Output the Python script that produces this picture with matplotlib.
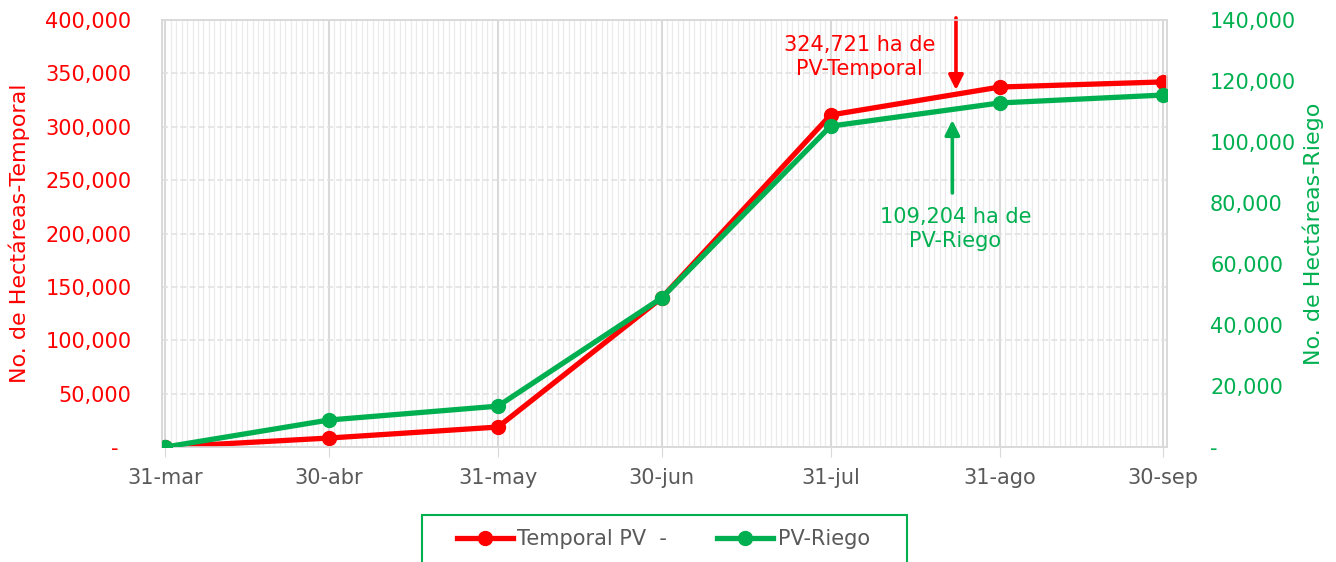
import datetime as dt
import matplotlib
matplotlib.use("Agg")
import matplotlib.pyplot as plt
import matplotlib.dates as mdates
from matplotlib.ticker import FixedLocator, FuncFormatter
from matplotlib.patches import Rectangle

plt.rcParams['font.family'] = ['DejaVu Sans']

# ---- data ----
fechas = ["2023-03-31", "2023-04-30", "2023-05-31", "2023-06-30",
          "2023-07-31", "2023-08-31", "2023-09-30"]
etiquetas_x = ["31-mar", "30-abr", "31-may", "30-jun", "31-jul", "31-ago", "30-sep"]
temporal = [0, 8400, 18700, 139600, 311000, 337200, 342000]
riego = [0, 8850, 13400, 48850, 105200, 112800, 115400]
ticks_temporal = [0, 50000, 100000, 150000, 200000, 250000, 300000, 350000, 400000]
ticks_riego = [0, 20000, 40000, 60000, 80000, 100000, 120000, 140000]

RED = "#FF0000"
GREEN = "#00B050"
GRAY_TXT = "#595959"
GRID = "#D9D9D9"

x = [dt.datetime.strptime(f, "%Y-%m-%d") for f in fechas]

W, H = 1336, 562
fig = plt.figure(figsize=(W / 100, H / 100), dpi=100)
ax = fig.add_axes([0.1213, 0.2046, 0.7522, 0.7598])
ax2 = ax.twinx()

l1, = ax.plot(x, temporal, '-o', color=RED, lw=3.8, ms=10, label="Temporal PV  -", zorder=3)
l2, = ax2.plot(x, riego, '-o', color=GREEN, lw=3.8, ms=10, label="PV-Riego", zorder=3)

ax.set_xlim(x[0] - dt.timedelta(days=0.6), x[-1] + dt.timedelta(days=0.7))
ax.set_ylim(0, 400000)
ax2.set_ylim(0, 140000)

# x axis
ax.xaxis.set_major_locator(FixedLocator(mdates.date2num(x)))
ax.set_xticklabels(etiquetas_x)
ax.xaxis.set_minor_locator(mdates.DayLocator())
ax.tick_params(axis='x', which='major', length=7, color=GRID, pad=8,
               labelsize=15, labelcolor=GRAY_TXT)
ax.tick_params(axis='x', which='minor', length=0)

# y axes
def fmt(v, trail):
    return "-" + trail if v == 0 else f"{int(v):,}"

ax.set_yticks(ticks_temporal)
ax.yaxis.set_major_formatter(FuncFormatter(lambda v, p: fmt(v, "  ")))
ax.tick_params(axis='y', length=0, pad=22, labelsize=15, labelcolor=RED)
ax2.set_yticks(ticks_riego)
ax2.yaxis.set_major_formatter(FuncFormatter(lambda v, p: fmt(v, "")))
ax2.tick_params(axis='y', length=0, pad=31, labelsize=15, labelcolor=GREEN)

ax.set_ylabel("No. de Hectáreas-Temporal", color=RED, fontsize=16)
ax.yaxis.set_label_coords(-0.131, 0.5)
ax2.set_ylabel("No. de Hectáreas-Riego", color=GREEN, fontsize=16)
ax2.yaxis.set_label_coords(1.135, 0.5)

# grid
ax.grid(axis='y', which='major', color="#E0E0E0", ls=(0, (4, 2)), lw=1.1)
ax.grid(axis='x', which='major', color=GRID, ls='-', lw=1.5)
ax.grid(axis='x', which='minor', color="#EBEBEB", ls='-', lw=0.9)
ax.set_axisbelow(True)
for a in (ax, ax2):
    for s in a.spines.values():
        s.set_color(GRID)
        s.set_linewidth(1.2)

# annotations
ax.annotate("", xy=(dt.datetime(2023, 8, 23), 334400),
            xytext=(dt.datetime(2023, 8, 23), 402000),
            arrowprops=dict(arrowstyle='-|>', color=RED, lw=2.6, mutation_scale=22,
                            shrinkA=0, shrinkB=0),
            annotation_clip=False, zorder=5)
ax.text(dt.datetime(2023, 8, 5, 8), 365300, "324,721 ha de\nPV-Temporal",
        color=RED, fontsize=15, ha='center', va='center', linespacing=1.2, zorder=5)

ax2.annotate("", xy=(dt.datetime(2023, 8, 22, 8), 107200),
             xytext=(dt.datetime(2023, 8, 22, 8), 83300),
             arrowprops=dict(arrowstyle='-|>', color=GREEN, lw=2.6, mutation_scale=22,
                             shrinkA=0, shrinkB=0),
             annotation_clip=False, zorder=5)
ax2.text(dt.datetime(2023, 8, 22, 22), 71500, "109,204 ha de\nPV-Riego",
         color=GREEN, fontsize=15, ha='center', va='center', linespacing=1.2, zorder=5)

# legend (frame drawn separately, cut at bottom like the reference)
leg = fig.legend(handles=[l1, l2], loc='center', bbox_to_anchor=(0.4965, (H - 539) / H),
                 ncol=2, fontsize=15, frameon=False,
                 handlelength=2.7, handletextpad=0.2, columnspacing=2.4,
                 borderaxespad=0)
for t in leg.get_texts():
    t.set_color(GRAY_TXT)
fig.patches.append(Rectangle((422 / W, -0.05), (907 - 422) / W, (H - 515) / H + 0.05,
                             transform=fig.transFigure, fill=False,
                             edgecolor=GREEN, lw=1.5, clip_on=False))

fig.savefig("out.png", dpi=100)
